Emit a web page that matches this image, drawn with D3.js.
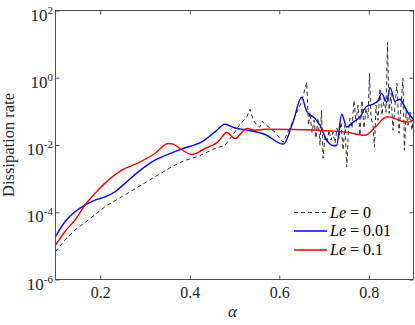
<!DOCTYPE html>
<html><head><meta charset="utf-8">
<script src="https://cdn.jsdelivr.net/npm/d3@7"></script>
<style>body{margin:0;background:#fff} svg{display:block}</style>
</head><body><svg id="c" width="415" height="325"></svg>
<script>
// ---- data ----
const xTicks = [0.2, 0.4, 0.6, 0.8];
const xTickLabels = ["0.2", "0.4", "0.6", "0.8"];
const yTicks = [1e-6, 1e-4, 1e-2, 1, 1e2];
const yTickExponents = ["-6", "-4", "-2", "0", "2"];
const leValues = ["0", "0.01", "0.1"];

const alphaLe0 = [0.100,0.121,0.1436,0.1733,0.2106,0.2479,0.285,0.3223,0.3597,0.3856,0.4162,0.4564,0.4788,0.4974,0.5123,0.5272,0.5347,0.542,0.549,0.5565,0.562,0.5682,0.5776,0.5906,0.605,0.609,0.6196,0.6352,0.65,
  0.6613,0.6654,0.6687,0.6732,0.6777,0.6821,0.6866,0.6911,0.6944,0.6978,0.7022,0.7067,0.7112,0.7156,0.7201,0.7246,0.7291,0.7335,0.738,0.7425,0.7469,0.7507,0.7547,0.7581,0.7626,0.767,0.7715,0.776,0.7804,0.7849,0.7894,0.7939,0.7983,0.8017,0.805,0.8095,0.8128,0.8162,0.8207,0.8251,0.8296,0.8341,0.8385,0.8419,0.8453,0.8497,0.8542,0.8587,0.8631,0.8676,0.8721,0.8765,0.8799,0.8832,0.8877,0.8922,0.8966,0.9];
const rateLe0 = [6.73e-6,1.50e-5,2.96e-5,5.87e-5,1.46e-4,2.88e-4,5.71e-4,1.13e-3,2.24e-3,3.37e-3,4.44e-3,7.87e-3,9.86e-3,2.09e-2,4.14e-2,6.68e-2,0.115,5.45e-2,4.14e-2,3.37e-2,5.08e-2,4.14e-2,3.37e-2,2.40e-2,1.39e-2,1.21e-2,2.45e-2,7.16e-2,0.190,
  0.731,3.87e-2,9.40e-2,2.40e-2,5.45e-2,1.59e-2,6.24e-2,9.86e-3,0.108,4.06e-3,1.95e-2,1.13e-2,2.75e-2,1.39e-2,2.40e-2,1.13e-2,3.15e-2,1.59e-2,4.75e-2,7.01e-3,3.87e-2,2.19e-3,2.75e-2,6.24e-2,3.15e-2,0.213,4.75e-2,0.152,1.95e-2,0.213,3.15e-2,0.124,6.24e-2,1.35,6.68e-2,3.87e-2,8.61e-3,0.152,5.45e-2,0.484,7.66e-2,0.245,9.40e-2,11.2,8.79e-2,0.344,2.75e-2,0.152,0.682,2.24e-2,0.152,0.960,7.01e-3,0.108,3.87e-2,9.40e-2,2.75e-2,6.68e-2];

const alphaLe001 = [0.100,0.121,0.1436,0.1659,0.1883,0.2106,0.233,0.2553,0.285,0.3223,0.3597,0.3856,0.4267,0.4564,0.4788,0.5011,0.5302,0.5682,0.609,0.6307,0.650,0.6613,0.6799,0.691,0.706,0.7208,0.7283,0.7396,0.7507,0.7655,0.7804,0.7954,0.8095,0.8207,0.8289,0.840,0.8475,0.8587,0.8698,0.8772,0.8884,0.900];
const rateLe001 = [1.87e-5,5.22e-5,1.04e-4,1.64e-4,2.30e-4,2.88e-4,4.06e-4,7.21e-4,1.59e-3,3.54e-3,5.83e-3,7.87e-3,1.24e-2,2.45e-2,4.14e-2,3.21e-2,2.75e-2,2.05e-2,1.06e-2,4.84e-2,0.262,0.101,6.11e-2,3.87e-2,1.39e-2,9.53e-3,9.86e-3,8.20e-2,3.44e-2,4.84e-2,6.82e-2,0.142,0.163,0.207,0.344,0.190,0.519,0.200,0.229,0.163,8.79e-2,5.83e-2];

const alphaLe01 = [0.100,0.121,0.1436,0.1659,0.1883,0.218,0.2479,0.285,0.3223,0.352,0.3633,0.3782,0.4044,0.434,0.4631,0.4826,0.5011,0.5273,0.5458,0.5682,0.63,0.7134,0.7469,0.7916,0.814,0.8408,0.8587,0.8743,0.8884,0.900];
const rateLe01 = [1.06e-5,2.64e-5,5.87e-5,1.64e-4,3.64e-4,9.02e-4,1.79e-3,2.94e-3,5.60e-3,1.11e-2,1.06e-2,7.87e-3,5.22e-3,7.87e-3,1.24e-2,2.35e-2,1.56e-2,3.09e-2,2.75e-2,2.94e-2,2.88e-2,2.62e-2,2.45e-2,1.95e-2,3.37e-2,6.92e-2,6.11e-2,5.08e-2,4.84e-2,5.45e-2];

// ---- chart ----
const svg = d3.select("#c");
const L = 55.5, R = 413.5, T = 10.5, B = 279.5;
const x = d3.scaleLinear().domain([0.1, 0.9]).range([L, R]);
const y = d3.scaleLog().domain([1e-6, 1e2]).range([B, T]);
const serif = "'Liberation Serif', 'Times New Roman', serif";
const axisColor = "#262626";

svg.append("rect").attr("width", 415).attr("height", 325).attr("fill", "#fff");
svg.append("defs").append("clipPath").attr("id", "clip")
  .append("rect").attr("x", L).attr("y", T).attr("width", R - L).attr("height", B - T);

const series = [
  {a: alphaLe0, v: rateLe0, color: "#1a1a1a", width: 0.9, dash: "4,3", curve: d3.curveLinear},
  {a: alphaLe001, v: rateLe001, color: "#0000ff", width: 1.4, dash: null, curve: d3.curveMonotoneX},
  {a: alphaLe01, v: rateLe01, color: "#ff0000", width: 1.4, dash: null, curve: d3.curveMonotoneX}
];
const gLines = svg.append("g").attr("clip-path", "url(#clip)");
series.forEach(s => {
  const pts = s.a.map((a, i) => [a, s.v[i]]);
  const line = d3.line().x(d => x(d[0])).y(d => y(d[1])).curve(s.curve);
  gLines.append("path").attr("d", line(pts)).attr("fill", "none")
    .attr("stroke", s.color).attr("stroke-width", s.width)
    .attr("stroke-dasharray", s.dash).attr("stroke-linejoin", "round");
});

// axes
function styleAxis(g) {
  g.select(".domain").remove();
  g.selectAll(".tick line").attr("stroke", axisColor).attr("stroke-width", 0.8);
  g.selectAll("text").attr("fill", axisColor).attr("font-family", serif).attr("font-size", 16);
}
svg.append("g").attr("transform", `translate(0,${B})`)
  .call(d3.axisBottom(x).tickValues(xTicks).tickFormat((d, i) => xTickLabels[i]).tickSize(-4).tickPadding(7))
  .call(styleAxis);
svg.append("g").attr("transform", `translate(0,${T})`)
  .call(d3.axisTop(x).tickValues(xTicks).tickFormat("").tickSize(-4))
  .call(styleAxis);
svg.append("g").attr("transform", `translate(${L},0)`)
  .call(d3.axisLeft(y).tickValues(yTicks).tickFormat("").tickSize(-4))
  .call(styleAxis);
svg.append("g").attr("transform", `translate(${R},0)`)
  .call(d3.axisRight(y).tickValues(yTicks).tickFormat("").tickSize(-4))
  .call(styleAxis);
svg.append("rect").attr("x", L).attr("y", T).attr("width", R - L).attr("height", B - T)
  .attr("fill", "none").attr("stroke", axisColor).attr("stroke-width", 0.8);

// y tick labels 10^n
yTicks.forEach((t, i) => {
  const tx = svg.append("text").attr("x", 53).attr("y", y(t) + 10)
    .attr("text-anchor", "end").attr("font-family", serif).attr("fill", axisColor);
  tx.append("tspan").attr("font-size", 17).text("10");
  tx.append("tspan").attr("font-size", 11).attr("dy", -7).text(yTickExponents[i]);
});

// axis titles
svg.append("text").attr("transform", `translate(14,${(T + B) / 2}) rotate(-90)`)
  .attr("text-anchor", "middle").attr("font-family", serif).attr("font-size", 16.5)
  .attr("fill", axisColor).text("Dissipation rate");
svg.append("text").attr("x", (L + R) / 2 - 2).attr("y", 317).attr("text-anchor", "middle")
  .attr("font-family", serif).attr("font-style", "italic").attr("font-size", 17)
  .attr("fill", axisColor).text("α");

// legend
const legY = [212.5, 231, 250];
series.forEach((s, i) => {
  svg.append("line").attr("x1", 294).attr("x2", 327).attr("y1", legY[i]).attr("y2", legY[i])
    .attr("stroke", s.color).attr("stroke-width", s.width).attr("stroke-dasharray", s.dash);
  const t = svg.append("text").attr("x", 330).attr("y", legY[i] + 5)
    .attr("font-family", serif).attr("font-size", 16).attr("fill", "#000");
  t.append("tspan").attr("font-style", "italic").text("Le");
  t.append("tspan").text(" = " + leValues[i]);
});
</script></body></html>
